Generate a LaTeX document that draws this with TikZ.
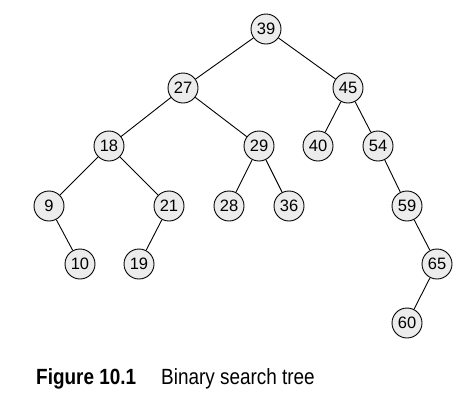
\documentclass[tikz,border=0pt]{standalone}
\usepackage{fontspec}
\setmainfont{Liberation Sans}
\newfontfamily\capfont[FakeStretch=0.86]{Liberation Sans}
\usepackage{tikz}

\tikzset{
  key/.style={circle,draw,fill=gray!15,line width=0.9pt,minimum size=30pt,inner sep=0pt,
    font=\fontsize{16.5}{19}\selectfont},
  branch/.style={line width=0.9pt}
}

\begin{document}
\begin{tikzpicture}[x=1pt,y=-1pt]
    \useasboundingbox (0,0) rectangle (468,413);
    % keys, level by level
    \node[key] (k39) at (266,29) {39};
    \node[key] (k27) at (183,88) {27};
    \node[key] (k45) at (348,88) {45};
    \node[key] (k18) at (109,146) {18};
    \node[key] (k29) at (259,146) {29};
    \node[key] (k40) at (318,146) {40};
    \node[key] (k54) at (378,146) {54};
    \node[key] (k9)  at (49,206)  {9};
    \node[key] (k21) at (169,206) {21};
    \node[key] (k28) at (229,206) {28};
    \node[key] (k36) at (289,206) {36};
    \node[key] (k59) at (407,206) {59};
    \node[key] (k10) at (80,264)  {10};
    \node[key] (k19) at (139,264) {19};
    \node[key] (k65) at (437,264) {65};
    \node[key] (k60) at (407,323) {60};
    % branches
    \foreach \a/\b in {39/27,39/45,27/18,27/29,45/40,45/54,18/9,18/21,29/28,29/36,
                       54/59,9/10,21/19,59/65,65/60}
        \draw[branch] (k\a) -- (k\b);
    % caption
    \node[anchor=base west,inner sep=0pt,font=\capfont\bfseries\fontsize{22}{26}\selectfont]
        (fig) at (36,384) {Figure 10.1};
    \node[anchor=base west,inner sep=0pt,font=\capfont\fontsize{22}{26}\selectfont]
        (title) at (161,384) {Binary search tree};
\end{tikzpicture}
\end{document}
